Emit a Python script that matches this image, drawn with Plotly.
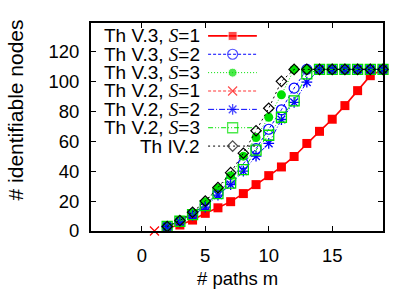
import plotly.graph_objects as go

# ---- data ----
m = [2, 3, 4, 5, 6, 7, 8, 9, 10, 11, 12, 13, 14, 15, 16, 17, 18, 19]
v3_s1 = [2, 4, 7.3, 11.8, 15.5, 19.6, 25, 31, 37, 42.8, 49.8, 58.5, 66.6, 74.7, 83.8, 93.8, 103.8, 108]
v3_s2 = [3, 6.5, 11.5, 17.5, 25.5, 34, 45, 55, 68, 81, 95.5, 108, 108, 108, 108, 108, 108, 108]
v3_s3 = [3, 7, 12, 19.5, 28.5, 37, 50, 62.5, 76, 91, 108, 108, 108, 108, 108, 108, 108, 108]
m_v2_s1 = [1]
v2_s1 = [0]
v2_s2 = [3, 6, 10.5, 16, 24, 31, 40, 50, 58.5, 74.5, 86, 99.5, 108, 108, 108, 108, 108, 108]
v2_s3 = [3, 6.5, 11, 17, 25, 32, 41, 54, 64, 76, 87, 105, 108, 108, 108, 108, 108, 108]
iv2 = [3, 7, 12.5, 20, 29, 39, 52, 67, 82, 100, 108, 108, 108, 108, 108, 108, 108, 108]

S_IT = "<span style='font-family:Liberation Serif'><i>S</i></span>"
labels = ["Th V.3, " + S_IT + "=1",
          "Th V.3, " + S_IT + "=2",
          "Th V.3, " + S_IT + "=3",
          "Th V.2, " + S_IT + "=1",
          "Th V.2, " + S_IT + "=2",
          "Th V.2, " + S_IT + "=3",
          "Th IV.2"]
x_title = "# paths m"
y_title = "# identifiable nodes"
x_ticks = [0, 5, 10, 15]
y_ticks = [0, 20, 40, 60, 80, 100, 120]

RED, BLUE, GREEN, BLACK = "#ff0000", "#0000ff", "#00e000", "#000000"
series = [
    (m, v3_s1, dict(color=RED, width=1.6, dash="solid"),
     dict(symbol="square", size=9, color=RED)),
    (m, v3_s2, dict(color=BLUE, width=1, dash="3px,2px"),
     dict(symbol="circle-open", size=10, color=BLUE, line=dict(width=1.2, color=BLUE))),
    (m, v3_s3, dict(color=GREEN, width=1, dash="1px,2px"),
     dict(symbol="circle", size=9, color=GREEN)),
    (m_v2_s1, v2_s1, dict(color=RED, width=0.8, dash="3px,2px"),
     dict(symbol="x-thin-open", size=9, color=RED, line=dict(width=1.2, color=RED))),
    (m, v2_s2, dict(color=BLUE, width=1, dash="6px,2px,1px,2px"),
     dict(symbol="asterisk-open", size=9, color=BLUE, line=dict(width=1.3, color=BLUE))),
    (m, v2_s3, dict(color=GREEN, width=1, dash="5px,2px,1px,2px,1px,2px"),
     dict(symbol="square-open", size=10, color=GREEN, line=dict(width=1.3, color=GREEN))),
    (m, iv2, dict(color=BLACK, width=1, dash="2px,3px"),
     dict(symbol="diamond-open", size=8, color=BLACK, line=dict(width=1.2, color=BLACK))),
]

fig = go.Figure()
for xs, ys, ln, mk in series:
    fig.add_trace(go.Scatter(x=xs, y=ys, mode="lines+markers", line=ln, marker=mk,
                             cliponaxis=False, showlegend=False, hoverinfo="skip"))

# ---- gnuplot-style key (sample line with one marker, text right-aligned) ----
key_text_x = 0.38
key_x0, key_xm, key_x1 = 0.401, 0.485, 0.568
key_top, key_step = 0.938, 0.0883
for i, (xs, ys, ln, mk) in enumerate(series):
    yy = key_top - i * key_step
    mk2 = dict(mk)
    mk2["size"] = [0, mk["size"], 0]
    fig.add_trace(go.Scatter(x=[key_x0, key_xm, key_x1], y=[yy, yy, yy],
                             xaxis="x2", yaxis="y2", mode="lines+markers",
                             line=ln, marker=mk2, cliponaxis=False,
                             showlegend=False, hoverinfo="skip"))
    fig.add_annotation(xref="paper", yref="paper", x=key_text_x, y=yy,
                       xanchor="right", yanchor="middle", showarrow=False,
                       text=labels[i], font=dict(size=19, color="black"))

# axis titles
fig.add_annotation(xref="paper", yref="paper", x=0.5, y=-0.228,
                   xanchor="center", yanchor="middle", showarrow=False,
                   text=x_title, font=dict(size=18.5, color="black"))
fig.add_annotation(xref="paper", yref="paper", x=-0.26, y=0.58,
                   xanchor="center", yanchor="middle", showarrow=False,
                   textangle=-90, text=y_title, font=dict(size=21, color="black"))

font = "Liberation Sans, Arial, sans-serif"
fig.update_layout(
    width=415, height=291,
    margin=dict(l=91, r=32, t=23, b=60),
    paper_bgcolor="white", plot_bgcolor="white",
    font=dict(family=font, size=18.5, color="black"),
    xaxis=dict(range=[-4, 19], tickvals=x_ticks, ticks="inside", ticklen=5,
               tickwidth=1, tickcolor="black", showline=True, linewidth=2,
               linecolor="black", mirror="ticks", showgrid=False, zeroline=False,
               automargin=False, ticklabelstandoff=7),
    yaxis=dict(range=[0, 139], tickvals=y_ticks, ticks="inside", ticklen=5,
               tickwidth=1, tickcolor="black", showline=True, linewidth=2,
               linecolor="black", mirror="ticks", showgrid=False, zeroline=False,
               automargin=False, ticklabelstandoff=6),
    xaxis2=dict(overlaying="x", range=[0, 1], visible=False),
    yaxis2=dict(overlaying="y", range=[0, 1], visible=False),
)

fig.write_html("out.html",
               config={"displayModeBar": False, "staticPlot": True},
               post_script="document.body.style.margin='0px';"
                           "document.body.style.overflow='hidden';")
